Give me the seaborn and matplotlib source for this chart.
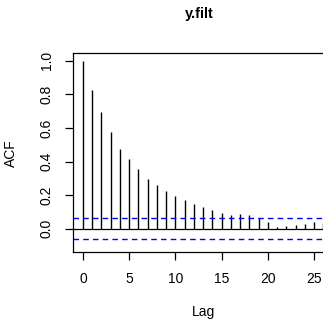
import numpy as np
import matplotlib
matplotlib.use("Agg")
import matplotlib.pyplot as plt
import seaborn as sns

lags = list(range(27))
acf_vals = [1.0, 0.827, 0.694, 0.579, 0.478, 0.413, 0.353, 0.294, 0.258, 0.224,
            0.196, 0.171, 0.145, 0.129, 0.109, 0.091, 0.085, 0.087, 0.081, 0.065,
            0.042, 0.008, 0.018, 0.020, 0.026, 0.040, 0.034]
conf = 0.0615
x_ticks = [0, 5, 10, 15, 20, 25]
y_ticks = [0.0, 0.2, 0.4, 0.6, 0.8, 1.0]

sns.set_style("ticks")
plt.rcParams['font.family'] = ['Liberation Sans', 'DejaVu Sans']
plt.rcParams['text.color'] = 'black'
plt.rcParams['axes.labelcolor'] = 'black'
plt.rcParams['xtick.color'] = 'black'
plt.rcParams['ytick.color'] = 'black'

fig = plt.figure(figsize=(3.23, 3.22), dpi=100)
ax = fig.add_axes([0.227, 0.217, 1.031 - 0.227, 0.834 - 0.217])

ax.vlines(lags, 0, acf_vals, color="black", linewidth=1.0)
ax.axhline(0, color="black", linewidth=0.9)
ax.axhline(conf, color="blue", linewidth=1.0, linestyle=(0, (4.0, 3.0)))
ax.axhline(-conf, color="blue", linewidth=1.0, linestyle=(0, (4.0, 3.0)))

ax.set_xlim(-1.04, 27.04)
ax.set_ylim(-0.139, 1.044)
ax.set_xticks(x_ticks)
ax.set_xticklabels([str(t) for t in x_ticks], fontsize=10, color="black")
ax.set_yticks(y_ticks)
ax.set_yticklabels([f"{t:.1f}" for t in y_ticks], fontsize=10, rotation=90, va="center", color="black")
ax.tick_params(axis="both", length=6, width=0.9, color="black", pad=8)
for s in ax.spines.values():
    s.set_visible(True)
    s.set_color("black")
    s.set_linewidth(0.9)

ax.set_xlabel("Lag", fontsize=10, labelpad=14, color="black")
ax.set_ylabel("ACF", fontsize=10, labelpad=16, color="black")
fig.text(0.617, 0.955, "y.filt", fontsize=10.5, fontweight="bold", ha="center", va="center", color="black")

fig.savefig("out.png", dpi=100)
